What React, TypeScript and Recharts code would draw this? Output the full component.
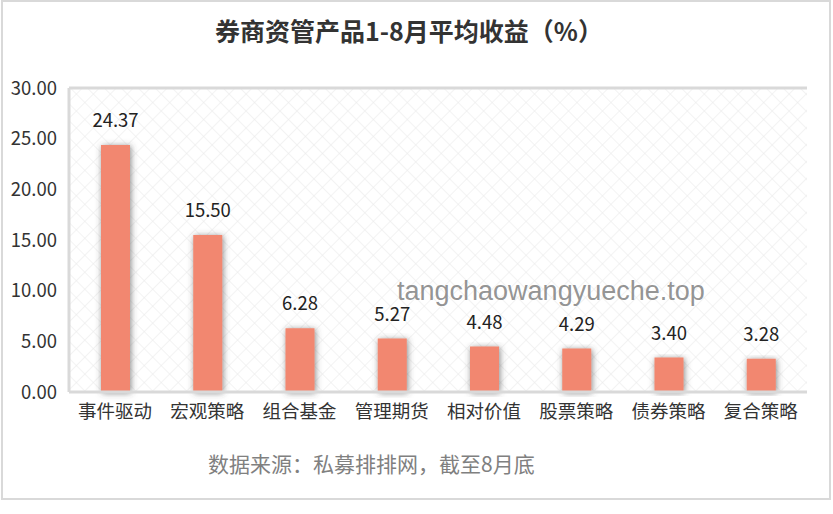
import { BarChart, Bar, XAxis, YAxis, CartesianGrid, LabelList, ReferenceLine } from 'recharts';

const categories = ['事件驱动', '宏观策略', '组合基金', '管理期货', '相对价值', '股票策略', '债券策略', '复合策略'];
const returns = [24.37, 15.5, 6.28, 5.27, 4.48, 4.29, 3.4, 3.28];
const yTicks = [0, 5, 10, 15, 20, 25, 30];

const chartData = categories.map((name, i) => ({ name, value: returns[i] }));

const FONT = '"Noto Sans CJK SC", "Microsoft YaHei", sans-serif';

export default function App() {
  return (
    <div style={{ position: 'absolute', left: 0, top: 0, width: 833, height: 514, background: '#fff', fontFamily: FONT }}>
      <div
        style={{
          position: 'absolute',
          left: 1,
          top: 0,
          width: 830,
          height: 500,
          border: '2px solid #d9d9d9',
          boxSizing: 'border-box',
        }}
      />
      <div
        style={{
          position: 'absolute',
          left: 0,
          top: 13,
          width: 818,
          textAlign: 'center',
          fontSize: 25,
          fontWeight: 700,
          color: '#333',
          lineHeight: '34px',
        }}
      >
        券商资管产品1-8月平均收益（%）
      </div>
      <div style={{ position: 'absolute', left: 0, top: 0 }}>
        <BarChart width={833} height={514} data={chartData} margin={{ top: 88, right: 26, bottom: 0, left: 0 }}>
          <defs>
            <pattern id="hatch" width="12" height="12" patternUnits="userSpaceOnUse" patternTransform="rotate(45)">
              <line x1="0" y1="0" x2="0" y2="12" stroke="#e8e8e8" strokeWidth="1" />
              <line x1="0" y1="0" x2="12" y2="0" stroke="#e8e8e8" strokeWidth="1" />
            </pattern>
            <filter id="barShadow" x="-40%" y="-10%" width="180%" height="120%">
              <feDropShadow dx="1" dy="1" stdDeviation="3" floodColor="#444" floodOpacity="0.65" />
            </filter>
          </defs>
          <CartesianGrid horizontal={false} vertical={false} fill="url(#hatch)" />
          <XAxis
            dataKey="name"
            height={122}
            tickLine={false}
            tickMargin={7}
            axisLine={{ stroke: '#d9d9d9', strokeWidth: 3 }}
            tick={{ fontSize: 18.5, fill: '#333', fontFamily: FONT }}
            interval={0}
          />
          <YAxis
            domain={[0, 30]}
            ticks={yTicks}
            width={69}
            tickLine={false}
            tickMargin={6}
            axisLine={{ stroke: '#d9d9d9', strokeWidth: 3 }}
            tickFormatter={(v: number) => v.toFixed(2)}
            tick={{ fontSize: 18.5, fill: '#333', fontFamily: FONT }}
          />
          <YAxis yAxisId="r" orientation="right" width={0} tick={false} tickLine={false} axisLine={{ stroke: '#d9d9d9', strokeWidth: 2 }} />
          <ReferenceLine y={30} stroke="#d9d9d9" strokeWidth={3} />
          <Bar dataKey="value" fill="#F2876F" barSize={29} isAnimationActive={false} filter="url(#barShadow)">
            <LabelList
              dataKey="value"
              position="top"
              offset={18}
              formatter={(v: number) => v.toFixed(2)}
              style={{ fontSize: 18.5, fill: '#222', fontFamily: FONT }}
            />
          </Bar>
        </BarChart>
      </div>
      <div
        style={{
          position: 'absolute',
          left: 397,
          top: 276,
          fontFamily: '"Liberation Sans", Arial, sans-serif',
          fontSize: 27,
          color: 'rgba(120,120,120,0.8)',
          lineHeight: '30px',
          whiteSpace: 'nowrap',
        }}
      >
        tangchaowangyueche.top
      </div>
      <div
        style={{
          position: 'absolute',
          left: 208,
          top: 449,
          fontSize: 21,
          color: '#808080',
          lineHeight: '28px',
          whiteSpace: 'nowrap',
        }}
      >
        数据来源：私募排排网，截至8月底
      </div>
    </div>
  );
}
